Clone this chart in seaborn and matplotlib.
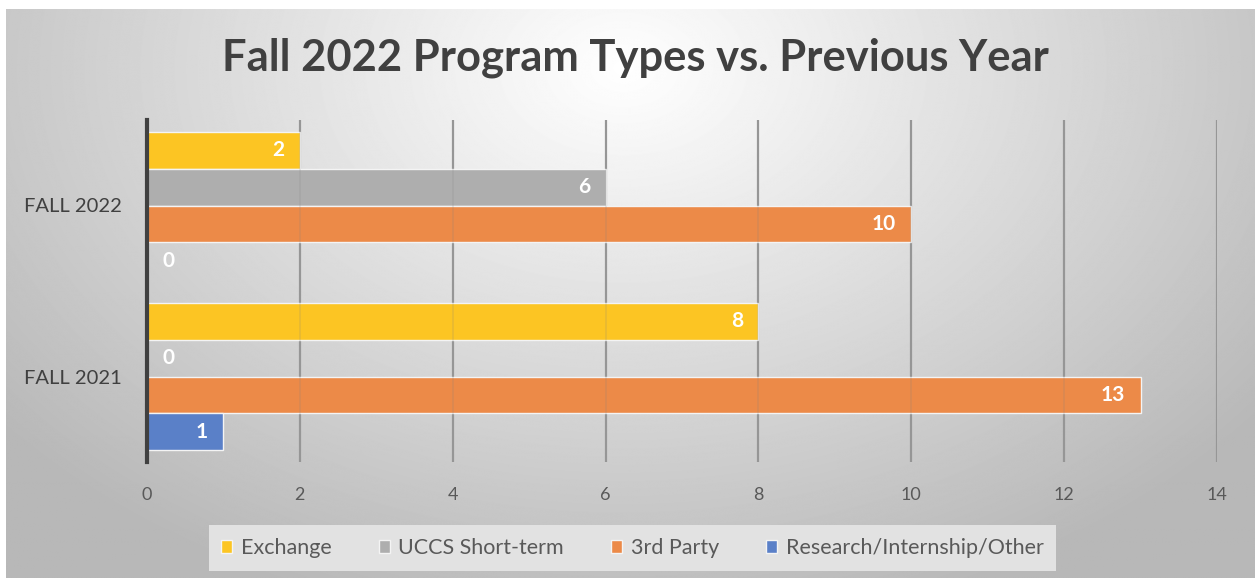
import numpy as np
import pandas as pd
import matplotlib
matplotlib.use('Agg')
import matplotlib.pyplot as plt
import seaborn as sns

terms = ['FALL 2022', 'FALL 2021']
program_types = ['Exchange', 'UCCS Short-term', '3rd Party', 'Research/Internship/Other']
fall_2022 = [2, 6, 10, 0]
fall_2021 = [8, 0, 13, 1]
colors = ['#FCC523', '#AEAEAE', '#EC8A48', '#5A80C8']
x_ticks = [0, 2, 4, 6, 8, 10, 12, 14]

rows = []
for term, vals in zip(terms, [fall_2022, fall_2021]):
    for t, v in zip(program_types, vals):
        rows.append({'term': term, 'type': t, 'count': v})
df = pd.DataFrame(rows)

sns.set_style('white')
plt.rcParams['font.family'] = ['Lato', 'DejaVu Sans']

W, H = 1255, 581
fig = plt.figure(figsize=(W / 100, H / 100), dpi=100)
fig.patch.set_facecolor('white')

# radial gradient background like the Excel chart area
bg = fig.add_axes([6 / W, 3 / H, 1 - 6 / W, 1 - 12 / H])
yy, xx = np.mgrid[0:H, 0:W]
d = np.sqrt(((xx - 620) / 780.0) ** 2 + ((yy - 60) / 560.0) ** 2)
shade = np.clip(1.0 - 0.27 * d, 0.72, 1.0)
bg.imshow(shade, cmap='gray', vmin=0, vmax=1, aspect='auto', interpolation='bilinear')
bg.axis('off')
bg.set_zorder(-10)

ax = fig.add_axes([147 / W, 1 - 462 / H, (1217 - 147) / W, (462 - 120) / H])
ax.patch.set_alpha(0)

sns.barplot(data=df, x='count', y='term', hue='type',
            hue_order=program_types, order=terms, orient='h',
            palette=colors, width=0.86, saturation=1,
            edgecolor='#f4f4f4', linewidth=1, ax=ax, legend=False, zorder=3)

ax.set_xlim(0, 14)
ax.set_ylim(1.5, -0.5)
ax.set_xticks(x_ticks)
ax.xaxis.grid(True, color='#9a9a9a', linewidth=1.6, zorder=0)
ax.set_axisbelow(True)
# faint gridlines showing through the semi-transparent bars
for xt in x_ticks[1:]:
    ax.axvline(xt, color='#808080', linewidth=1.2, alpha=0.18, zorder=4)
for s in ['top', 'right', 'bottom']:
    ax.spines[s].set_visible(False)
ax.spines['left'].set_color('#404040')
ax.spines['left'].set_linewidth(3)
ax.spines['left'].set_zorder(5)
ax.tick_params(axis='both', length=0)
ax.tick_params(axis='x', labelsize=13, labelcolor='#595959', pad=18)
ax.tick_params(axis='y', labelsize=14.5, labelcolor='#404040', pad=18)
ax.set_xlabel('')
ax.set_ylabel('')

for container in ax.containers:
    for bar in container:
        w = bar.get_width()
        yc = bar.get_y() + bar.get_height() / 2
        if w == 0:
            ax.text(0.2, yc, '0', ha='left', va='center', color='white',
                    fontsize=15, fontweight='bold', zorder=6)
        else:
            ax.text(w - 0.2, yc, f'{int(w)}', ha='right', va='center', color='white',
                    fontsize=15, fontweight='bold', zorder=6)

fig.text(0.506, 1 - 58 / H, 'Fall 2022 Program Types vs. Previous Year', ha='center',
         va='center', fontsize=31.3, fontweight='bold', color='#404040')

handles = [plt.Rectangle((0, 0), 1, 1, facecolor=c, edgecolor='#f4f4f4')
           for c in colors]
leg = fig.legend(handles, program_types, loc='center', bbox_to_anchor=(0.504, 1 - 548 / H),
                 ncol=4, frameon=True, fancybox=False, fontsize=15.5,
                 handlelength=0.5, handleheight=0.6, handletextpad=0.4,
                 columnspacing=2.2, borderpad=0.6, borderaxespad=0)
leg.get_frame().set_facecolor('#e2e2e2')
leg.get_frame().set_edgecolor('none')
leg.get_frame().set_alpha(1)
for t in leg.get_texts():
    t.set_color('#595959')

fig.savefig('out.png', dpi=100)
